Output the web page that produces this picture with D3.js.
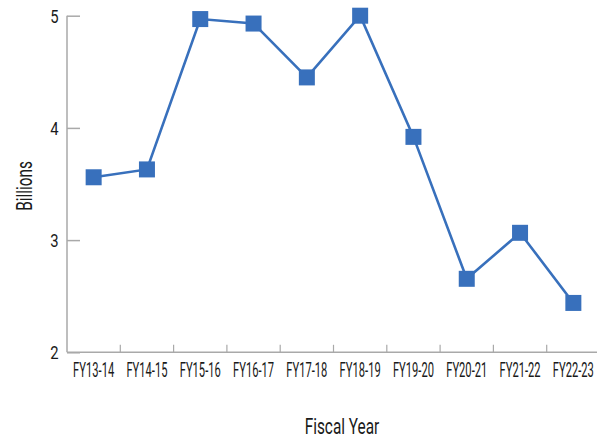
<!DOCTYPE html>
<html><head><meta charset="utf-8">
<script src="https://cdn.jsdelivr.net/npm/d3@7"></script>
<style>body{margin:0;background:#fff}svg{display:block}</style>
</head><body>
<svg id="c" width="597" height="443"></svg>
<script>
const categories = ["FY13-14","FY14-15","FY15-16","FY16-17","FY17-18","FY18-19","FY19-20","FY20-21","FY21-22","FY22-23"];
const values = [3.56, 3.63, 4.97, 4.93, 4.45, 5.00, 3.92, 2.655, 3.065, 2.44];
const yTicks = [2, 3, 4, 5];
const xTitle = "Fiscal Year";
const yTitle = "Billions";

(function(){
const svg = d3.select("#c");
const mLeft = 67, mRight = 600, mTop = 15.7, mBottom = 352.3;
const x = d3.scaleBand().domain(categories).range([mLeft, mRight]);
const y = d3.scaleLinear().domain([2, 5]).range([mBottom, mTop]);
const axisColor = "#a9a9a9";
const blue = "#3870bc";
const font = "Roboto, 'Liberation Sans', sans-serif";
const ink = "#1a1a1a";

// y axis
const ya = svg.append("g").attr("transform", `translate(${mLeft},0)`)
  .call(d3.axisRight(y).tickValues(yTicks).tickSize(13).tickFormat(d3.format("d")));
ya.select(".domain").remove();
ya.selectAll(".tick line").attr("stroke", axisColor).attr("stroke-width", 1.5);
ya.selectAll(".tick text").remove();
svg.append("line").attr("x1", mLeft).attr("x2", mLeft).attr("y1", mTop).attr("y2", mBottom)
  .attr("stroke", axisColor).attr("stroke-width", 1.5);
svg.append("g").selectAll("text").data(yTicks).join("text")
  .attr("transform", d => `translate(58.5,${y(d)}) scale(0.78,1)`)
  .attr("dy", "0.36em").attr("text-anchor", "end")
  .attr("font-family", font).attr("font-size", 19).attr("fill", ink).text(d => d);

// x axis
svg.append("line").attr("x1", mLeft).attr("x2", mRight).attr("y1", mBottom).attr("y2", mBottom)
  .attr("stroke", axisColor).attr("stroke-width", 1.5);
svg.append("g").selectAll("line").data(categories.slice(1)).join("line")
  .attr("x1", d => x(d)).attr("x2", d => x(d)).attr("y1", mBottom).attr("y2", mBottom - 7.5)
  .attr("stroke", axisColor).attr("stroke-width", 1.2);
svg.append("g").selectAll("text").data(categories).join("text")
  .attr("transform", d => `translate(${x(d) + x.bandwidth()/2},377) scale(0.545,1)`)
  .attr("text-anchor", "middle")
  .attr("font-family", font).attr("font-size", 20.5).attr("fill", ink).text(d => d);

// titles
svg.append("text").attr("transform", "translate(342,434) scale(0.7,1)").attr("text-anchor", "middle")
  .attr("font-family", font).attr("font-size", 22).attr("fill", ink).text(xTitle);
svg.append("text").attr("transform", "translate(32,186) rotate(-90) scale(0.7,1)").attr("text-anchor", "middle")
  .attr("font-family", font).attr("font-size", 22).attr("fill", ink).text(yTitle);

// line + markers
const cx = d => x(d) + x.bandwidth()/2;
const data = categories.map((c, i) => ({c, v: values[i]}));
svg.append("path").datum(data)
  .attr("d", d3.line().x(d => cx(d.c)).y(d => y(d.v)))
  .attr("fill", "none").attr("stroke", blue).attr("stroke-width", 2.6);
svg.append("g").selectAll("rect").data(data).join("rect")
  .attr("x", d => cx(d.c) - 8).attr("y", d => y(d.v) - 8).attr("width", 16).attr("height", 16)
  .attr("fill", blue);
})();
</script>
</body></html>
